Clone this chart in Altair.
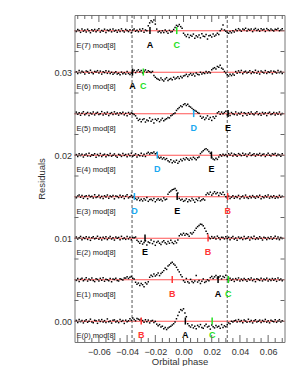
import altair as alt
import pandas as pd
import numpy as np

# ---------------- data ----------------
phase_start = -0.076
phase_step = 0.001
n_pts = 147
offsets = [0.000, 0.005, 0.010, 0.015, 0.020, 0.025, 0.030, 0.035]

# residuals in units of 1e-5 (curve k sits at offsets[k])
res0 = [10, -15, 22, -5, 8, -20, 3, 18, -12, 0, 25, -8, -18, 12, 5, -25, 15, -3, 20, -10, 7, -14, 28, -6, 2, -22, 11, 16, -9, 4, -17, 21, -2, 9, -26, 13, -7, 6,
        30, 12, 38, 20, 5, 33, 25, 15, 28,
        8, -12, 18, -5, 14, -20, 4, 10, -15, -2,
        -35, -55, -40, -70, -60,
        -90, -75, -100, -80, -70,
        -60, -45, -30, -10,
        30, 70, 110, 140, 130, 150, 100, 55,
        -30, -55, -70, -45, -80, -60, -90, -50, -65, -40, -75, -85, -55, -35, -70, -60, -95, -45, -65, -80, -50, -70, -60, -85, -40, -75, -55, -65,
        -40, -20, -30, 0, -10, 5,
        12, -10, 20, -4, 8, -18, 15, 2, -12, 24, -6, 10, -20, 5, 18, -8, 0, 14, -16, 9, -3, 22, -11, 6, -19, 13, 1, -7, 17, -13, 4, 19, -9, 7]
res1 = [-8, 14, -20, 6, 18, -12, 2, 25, -16, 9, -4, 20, -10, -22, 11, 4, -14, 17, -6, 23, -18, 7, 0, -11, 15, -24, 10, 3, 19, -9, -15, 12, 5, -3, 21,
        20, 35, 15, 30, 40, 18, 10,
        -30, -55, -40, -70, -45, -60, -85, -35, -50, -25,
        30, 55, 40, 70, 45, 60, 80, 50, 75, 90,
        110, 140, 125, 165, 180, 200, 210,
        190, 175, 150, 120, 95, 60, 35,
        -10, -30, 15, -25, -40, 5, -20, -35, -15, 50, -28, -8, -45, -18, 10, -32, -22, 0, -12,
        25, 40, 15, 35, 50, 20, 30, 45, 10, 38, 28, 55,
        5, -12, 18, -6, 10, -20, 14, -2, 22, -15, 8, -9, 16, 1, -18, 12, -4, 20, -11, 7, -23, 13, 3, -8, 17, -14, 9, -1, 19, -16, 6, -10, 15, -5, 11, -19, 21, -3, 8, -13]
res2 = [15, -10, 5, 22, -18, 8, -3, 19, -14, 11, -25, 6, 17, -7, 0, 24, -12, 9, -20, 13, -5, 18, -16, 3, 21, -9, 7, -22, 14, -1, 10, -17, 23, -6, 4, -13, 20, -8, 12, -19,
        10, 5, 15,
        -25, -40, -60, -35, -70, -50, -30, -80, -45, -55, -20, -65, -40, -85, -50, -35, -60, -75, -45, -30, -55, -70, -40, -60, -25, -50, -65, -35, -55, -20,
        30, 50, 40, 60, 35, 55, 45, 25, 65, 50,
        70, 95, 120, 140, 155, 170, 165, 150, 120, 85, 55,
        10, -5, 20, 0, 15, -10, 25, 5, -15, 12, 8, -8, 18,
        -6, 12, -18, 7, 20, -11, 3, -24, 15, -2, 9, -15, 22, -7, 1, 17, -20, 11, -4, 24, -13, 6, -9, 18, -1, -21, 13, 4, -16, 10, -5, 19, -12, 2, 23, -8, 14, -17, 8, -3]
res3 = [-12, 9, 20, -6, 14, -19, 3, 11, -23, 16, -2, 7, -15, 24, -9, 0, 18, -13, 5, -20, 12, -4, 21, -17, 8, -1, 15, -25, 10, 2, -11, 19, -7, 13, -22, 6, 23, -14, 1, 17, -8, 4,
        -20, -35, -15, -45, -30, -50, -25, -40, -10, -55, -35, -30, -45, -20, -60, -38, -25, -42, -30, -50, -15, -35, -28,
        30, 55, 70, 85, 90, 100, 75, 45,
        -20, -40, -30, -55, -45, -25, -60, -35, -50, -20, -40, -65, -30, -45, -15, -50, -35, -25, -40,
        25, 45, 30, 55, 20, 40, 60, 35, 50, 15, 45, 30, 55, 25,
        0, -15, 8, -22, -5, 12, -18, 3, -10, 16, -25, -2, 9, -14, 20, -8, -20, 5, -12, 14, -3, -17, 10, -7, 18, -23, 1, -11, 13, -4, 22, -16, 6, -9, 11, -19, 2, -13, 17, -6, 7]
res4 = [8, -16, 19, -4, 12, -21, 2, 15, -9, 24, -13, 5, -1, 18, -24, 10, -6, 21, -15, 3, 13, -19, 7, -3, 22, -11, 0, 16, -8, -23, 11, 4, -14, 20, -2, 9, -18, 14, -7, 25, -12, 1, 17, -20, 6, -5, 23, -10, 12, -15,
        20, 35, 15, 30, 25, 40, 18, 28,
        -20, -35, -25, -45, -30, -50, -40, -65, -80, -55, -90, -70, -85, -60, -95, -75, -50, -65, -40, -55, -30, -45, -60, -35, -50, -25, -40, -55, -30, -20,
        20, 40, 55, 70, 80, 65, 45, 25,
        -25, -45, -55, -35, -50, -20,
        5, -10, 12, -3, 8, -12,
        18, 2, 25, -8, 14, 6, -12, 20, 9, -5, 23, 0, 15, -14, 11, 28, -3, 7, 19, -10, 13, 4, 22, -7, 10, 16, -15, 5, 24, 1, -9, 17, 8, 21, -6, 12, 3, -11, 19]
res5 = [20, -5, 13, -18, 7, 24, -11, 2, 16, -22, 9, -3, 21, -14, 5, 17, -8, 0, 26, -16, 11, -6, 19, -20, 4, 14, -9, 23, -2, 8, -17, 12, 1, 18, -13, 6, -24, 15, -7, 10, -1,
        -10, -25,
        -55, -80, -65, -95, -70, -60, -100, -75, -85, -50, -90, -70, -110, -65, -80, -60, -95, -75, -55, -85, -70,
        -60, -45, -50, -25, -15, 0, 10,
        40, 60, 75, 95, 85, 110, 120, 100, 115, 90, 80, 65, 50,
        40, 30, 15, 5,
        -30, -55, -40, -70, -50, -25, -65, -45, -80, -35, -55, -30,
        10, 25, -5, 20, 0, 15, 30,
        -12, 6, -20, 15, 1, -9, 22, -15, 8, -4, 18, -24, 11, 3, -17, 13, -7, 20, -1, -13, 9, 24, -10, 4, -19, 16, -3, 12, -22, 7, 19, -8, 0, 14, -16, 10, -5, 21, -11, 2]
res6 = [5, -14, 21, -7, 12, 0, -20, 16, 8, -11, 24, -3, -17, 10, 2, 19, -9, 14, -22, 6, -4, 18, -13, 11,
        -15, 0, -25, -8, 5, -20, -12, -30, 2, -18, -5, -22, 8, -14, -28, -10,
        10, 25, -5, 15, 30, 5, 20, -8, 12, 28, 0, 18, 8, -3, 10,
        -40, -60, -75, -85, -95, -70, -90, -105, -80, -65, -100, -85, -75, -90, -60, -80, -70, -55, -75, -50, -65, -45,
        -40, -25, -50, -30, -15, -35, -20, -45, -10, -25, -30, 0, -20, -5, -15, 10, -10, 5, -8,
        30, 45, 55, 40, 70, 60, 85, 50, 35,
        10, -10,
        -30, -45, -25, -40, -20, -35,
        8, -12, 17, -4, 22, -18, 3, 13, -9, 0, 19, -15, 6, -6, 24, -11, 10, -21, 15, 1, -8, 20, -14, 7, -2, 16, -19, 12, 4, -10, 21, -5, 9, -16]
res7 = [-9, 14, 3, -19, 22, -5, 10, -14, 18, 1, -23, 12, -2, 16, -11, 7, 25, -16, 4, -7, 19, -20, 9, 0, 15, -13, 21, -4, 6, -18, 11, -8, 23, -1, -15, 17, 2, -10, 13, -24, 8, 20, -6, 5, -12, 18, -3, 24, -17, 10, 0,
        60, 95, 120, 105, 130, 80,
        20, -15, -5, -25, 0, -20, 10, -10, -30, 5, -15, -8, 15,
        40, 65, 55, 75, 50, 30,
        -30, -50, -70, -45, -80, -55, -65, -40, -90, -60, -75, -50, -85, -35, -65, -70, -45, -100, -60, -55, -75, -40, -65, -50, -30, -45,
        0, 20, 70, 10, -5,
        -20, -30, -10, -25, 0, -15,
        15, 0, 25, 8, -6, 20, 12, 30, -2, 18, 5, 22, -10, 14, 28, 3, 16, -5, 24, 9, 19, -8, 26, 11, 2, 21, 7, -4, 17, 13, 27, 0, 10, 23]
residuals = [res0, res1, res2, res3, res4, res5, res6, res7]

# feature markers: curve index, letter, phase
mark_curve = [7, 7, 6, 6, 5, 5, 4, 4, 3, 3, 3, 2, 2, 1, 1, 1, 0, 0, 0]
mark_letter = ["A", "C", "A", "C", "D", "E", "D", "E", "D", "E", "B", "E", "B", "B", "A", "C", "B", "A", "C"]
mark_phase = [-0.0238, -0.0048, -0.0362, -0.0285, 0.0072, 0.0316, -0.0186, 0.0198,
              -0.0348, -0.0045, 0.0313, -0.0273, 0.0174, -0.0080, 0.0245, 0.0318,
              -0.0300, 0.0013, 0.0203]
letter_colors = {"A": "#000000", "B": "#ff3535", "C": "#22e022", "D": "#1aa8f0", "E": "#000000"}

dashed_phase = [-0.0365, 0.031]

x_major = [-0.06, -0.04, -0.02, 0.0, 0.02, 0.04, 0.06]
x_minor = [-0.075, -0.07, -0.065, -0.055, -0.05, -0.045, -0.035, -0.03, -0.025,
           -0.015, -0.01, -0.005, 0.005, 0.01, 0.015, 0.025, 0.03, 0.035,
           0.045, 0.05, 0.055, 0.065, 0.07]
y_major = [0.0, 0.01, 0.02, 0.03]
y_minor = [0.0025, 0.005, 0.0075, 0.0125, 0.015, 0.0175, 0.0225, 0.025, 0.0275, 0.0325, 0.035]

# ---------------- build tables ----------------
phases = np.round(phase_start + phase_step * np.arange(n_pts), 4)
rows = []
for k, (off, res) in enumerate(zip(offsets, residuals)):
    for p, r in zip(phases, res):
        rows.append({"phase": float(p), "value": off + r * 1e-5, "curve": k})
pts = pd.DataFrame(rows)

base_df = pd.DataFrame({"y": offsets, "label": [f"E({k}) mod[8]" for k in range(8)],
                        "ylab": [o - 0.0018 for o in offsets]})
marks_df = pd.DataFrame({
    "phase": mark_phase,
    "letter": mark_letter,
    "color": [letter_colors[l] for l in mark_letter],
    "y0": [offsets[c] - 0.0004 for c in mark_curve],
    "y1": [offsets[c] + 0.00045 for c in mark_curve],
    "ylab": [offsets[c] - 0.0017 for c in mark_curve],
})
dash_df = pd.DataFrame({"phase": dashed_phase})

W, H = 210, 327
xs = alt.Scale(domain=[-0.0773, 0.0716], nice=False, zero=False)
ys = alt.Scale(domain=[-0.0025, 0.0369], nice=False, zero=False)

xaxis = alt.Axis(values=x_major, format=".2f", title="Orbital phase", grid=False,
                 ticks=False, domain=False, labelPadding=5, tickSize=0,
                 titleX=W / 2, titleY=19.5, titleBaseline="middle")
yaxis = alt.Axis(values=y_major, format=".2f", title="Residuals", grid=False,
                 ticks=False, domain=False, labelPadding=3, tickSize=0,
                 titleX=-33, titleY=H / 2, titleBaseline="middle")


def X(field):
    return alt.X(field, type="quantitative", scale=xs, axis=xaxis)


def Y(field):
    return alt.Y(field, type="quantitative", scale=ys, axis=yaxis)


baselines = alt.Chart(base_df).mark_rule(color="#ff5555", strokeWidth=1.1).encode(
    y=Y("y"), x=alt.value(0), x2=alt.value(W))

dashed = alt.Chart(dash_df).mark_rule(color="#555555", strokeWidth=1, strokeDash=[3, 2]).encode(
    x=X("phase"), y=alt.value(0), y2=alt.value(H))

points = alt.Chart(pts).mark_square(size=2.2, color="black", opacity=1).encode(
    x=X("phase"), y=Y("value"))

feat_ticks = alt.Chart(marks_df).mark_rule(strokeWidth=1.5).encode(
    x=X("phase"), y=Y("y0"), y2="y1", color=alt.Color("color:N", scale=None))

feat_text = alt.Chart(marks_df).mark_text(fontSize=9, fontWeight="bold", font="Liberation Sans",
                                          baseline="middle").encode(
    x=X("phase"), y=Y("ylab"), text="letter:N", color=alt.Color("color:N", scale=None))

e_text = alt.Chart(base_df).mark_text(fontSize=7.5, font="Liberation Sans", align="left",
                                      baseline="middle", color="#222222").encode(
    x=alt.value(2), y=Y("ylab"), text="label:N")

tx_df_major = pd.DataFrame({"t": x_major})
tx_df_minor = pd.DataFrame({"t": x_minor})
ty_df_major = pd.DataFrame({"t": y_major})
ty_df_minor = pd.DataFrame({"t": y_minor})
tick_col = "#666666"

ticks = [
    alt.Chart(tx_df_major).mark_rule(color=tick_col).encode(x=X("t"), y=alt.value(H), y2=alt.value(H - 7)),
    alt.Chart(tx_df_major).mark_rule(color=tick_col).encode(x=X("t"), y=alt.value(0), y2=alt.value(7)),
    alt.Chart(tx_df_minor).mark_rule(color=tick_col).encode(x=X("t"), y=alt.value(H), y2=alt.value(H - 4)),
    alt.Chart(tx_df_minor).mark_rule(color=tick_col).encode(x=X("t"), y=alt.value(0), y2=alt.value(4)),
    alt.Chart(ty_df_major).mark_rule(color=tick_col).encode(y=Y("t"), x=alt.value(0), x2=alt.value(7)),
    alt.Chart(ty_df_major).mark_rule(color=tick_col).encode(y=Y("t"), x=alt.value(W), x2=alt.value(W - 7)),
    alt.Chart(ty_df_minor).mark_rule(color=tick_col).encode(y=Y("t"), x=alt.value(0), x2=alt.value(4)),
    alt.Chart(ty_df_minor).mark_rule(color=tick_col).encode(y=Y("t"), x=alt.value(W), x2=alt.value(W - 4)),
]

chart = alt.layer(baselines, dashed, points, feat_ticks, feat_text, e_text, *ticks).properties(
    width=W, height=H,
    autosize=alt.AutoSizeParams(type="none"),
    padding={"left": 66.5, "top": 7, "right": 6, "bottom": 24},
).configure_view(stroke="#777777", strokeWidth=1).configure_axis(
    labelFont="Liberation Sans", labelFontSize=9, labelColor="#333333",
    titleFont="Liberation Sans", titleFontSize=9.5, titleFontWeight="normal", titleColor="#333333",
)

chart.save("out.html", embed_options={"renderer": "svg", "actions": False})
